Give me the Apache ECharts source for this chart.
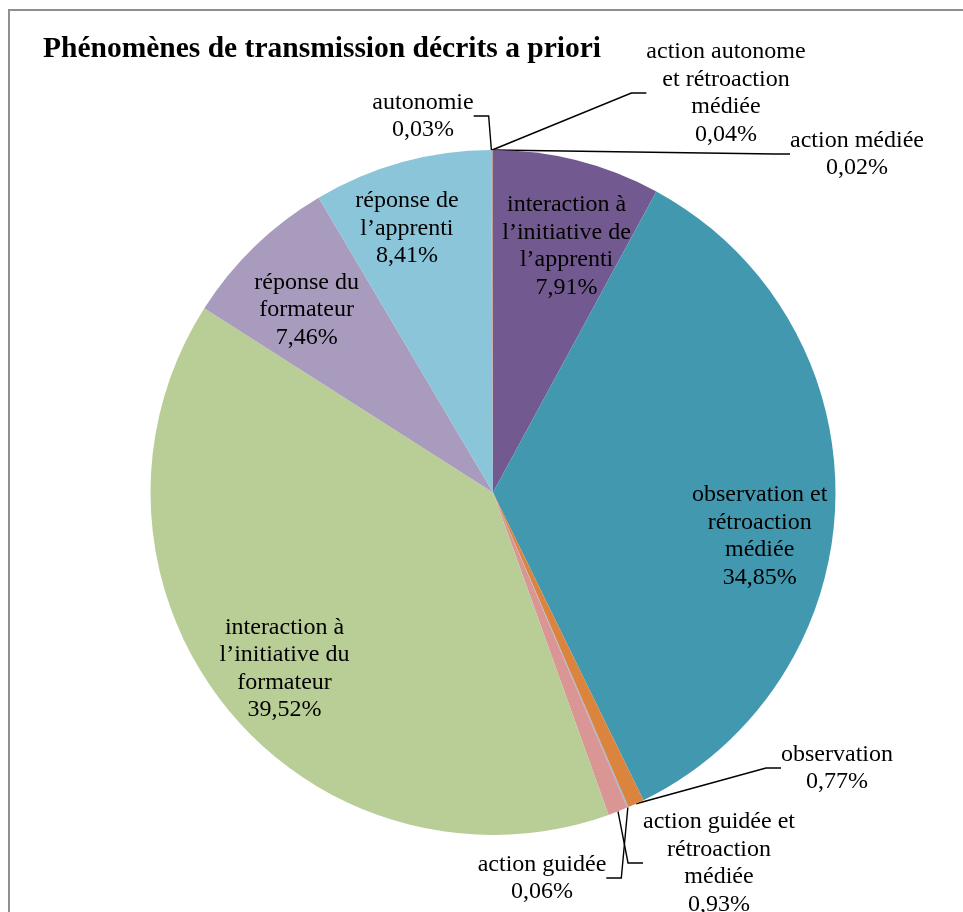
<!DOCTYPE html>
<html><head><meta charset="utf-8">
<script src="https://cdn.jsdelivr.net/npm/echarts@6/dist/echarts.min.js"></script>
<style>html,body{margin:0;padding:0;background:#fff}#c{width:963px;height:912px}</style>
</head><body><div id="c"></div>
<script>
const titleText = 'Phénomènes de transmission décrits a priori';
const categories = [
  'interaction à\nl’initiative de\nl’apprenti',
  'observation et\nrétroaction\nmédiée',
  'observation',
  'action guidée',
  'action guidée et\nrétroaction\nmédiée',
  'interaction à\nl’initiative du\nformateur',
  'réponse du\nformateur',
  'réponse de\nl’apprenti',
  'autonomie',
  'action autonome\net rétroaction\nmédiée',
  'action médiée'
];
const values = [7.91, 34.85, 0.77, 0.06, 0.93, 39.52, 7.46, 8.41, 0.03, 0.04, 0.02];
const colors = ['#72598F', '#4198AF', '#DB843D', '#95B3D7', '#D99694', '#B9CD96', '#A99BBD', '#8AC5D9', '#C99A9A', '#B07F7F', '#A08080'];

// label placement (layout only)
const outsideLabelPos = {
  2: [837, 768],
  3: [542, 878],
  4: [719, 863],
  8: [423, 116],
  9: [726, 93],
  10: [857, 154]
};
const insideLabelShift = {
  0: [8, 12],
  1: [0, 38],
  5: [0, 10],
  6: [-1, 9],
  7: [-15, -7]
};

const CENTER = [493, 492.5];
const R = 342.5;
const fmt = v => v.toFixed(2).replace('.', ',') + '%';
const font = {fontFamily: '"Liberation Serif", "Times New Roman", serif', fontSize: 24, lineHeight: 27.5, color: '#000'};

const isInside = i => values[i] >= 5;

const chart = echarts.init(document.getElementById('c'), null, {renderer: 'canvas'});
chart.setOption({
  animation: false,
  backgroundColor: '#fff',
  title: {
    text: titleText, left: 43, top: 34, padding: 0,
    textStyle: {fontFamily: '"Liberation Serif", "Times New Roman", serif', fontSize: 29.5, fontWeight: 'bold', color: '#000'}
  },
  graphic: [{
    type: 'rect', z: -10, silent: true,
    shape: {x: 9, y: 10, width: 1200, height: 1200},
    style: {fill: 'none', stroke: '#8f8f8f', lineWidth: 2}
  }],
  series: [
    {
      type: 'pie',
      center: CENTER,
      radius: R,
      startAngle: 90,
      clockwise: true,
      avoidLabelOverlap: false,
      itemStyle: {borderWidth: 0},
      emphasis: {disabled: true},
      data: categories.map((c, i) => ({
        name: c, value: values[i],
        itemStyle: {color: colors[i]},
        label: {show: !isInside(i)},
        labelLine: {show: !isInside(i)}
      })),
      label: Object.assign({position: 'outside', formatter: p => p.name + '\n' + fmt(p.value), align: 'center'}, font),
      labelLine: {show: true, length: 15, length2: 15, lineStyle: {color: '#000', width: 1.4}},
      labelLayout: function (params) {
        const p = outsideLabelPos[params.dataIndex];
        if (!p) return {};
        return {x: p[0], y: p[1], align: 'center', verticalAlign: 'middle'};
      }
    },
    {
      type: 'pie',
      center: CENTER,
      radius: [R * 0.54, R],
      startAngle: 90,
      clockwise: true,
      silent: true,
      avoidLabelOverlap: false,
      itemStyle: {color: 'rgba(0,0,0,0)', borderWidth: 0},
      data: categories.map((c, i) => ({
        name: c, value: values[i],
        label: {show: isInside(i)}
      })),
      label: Object.assign({position: 'inside', formatter: p => p.name + '\n' + fmt(p.value), align: 'center'}, font),
      labelLine: {show: false},
      labelLayout: function (params) {
        const s = insideLabelShift[params.dataIndex];
        if (!s) return {};
        return {dx: s[0], dy: s[1]};
      }
    }
  ]
});
</script></body></html>
